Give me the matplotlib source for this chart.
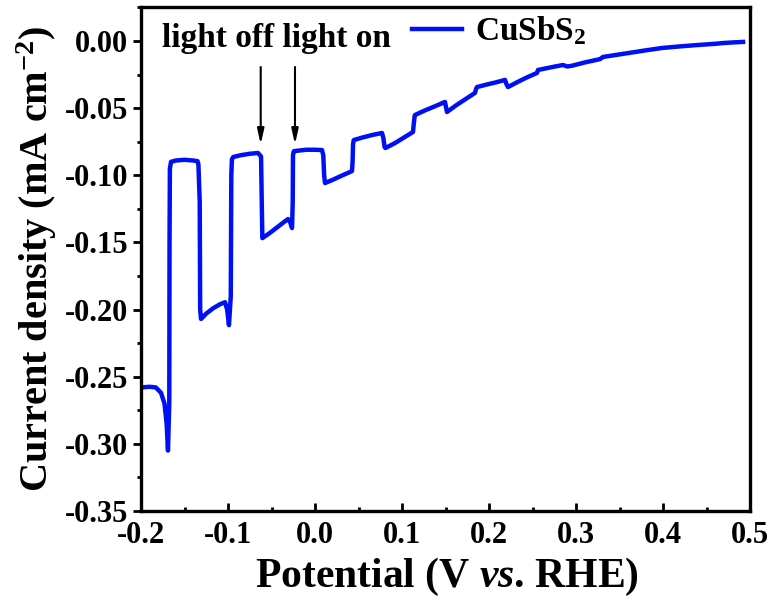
import matplotlib
matplotlib.use("Agg")
import matplotlib.pyplot as plt
from matplotlib.ticker import MultipleLocator, FormatStrFormatter

plt.rcParams['font.family'] = ['Liberation Serif', 'DejaVu Serif']
plt.rcParams['font.weight'] = 'bold'
plt.rcParams['axes.unicode_minus'] = False
plt.rcParams['mathtext.fontset'] = 'custom'
plt.rcParams['mathtext.rm'] = 'Liberation Serif:bold'
plt.rcParams['mathtext.bf'] = 'Liberation Serif:bold'
plt.rcParams['mathtext.it'] = 'Liberation Serif:italic:bold'

# Chopped-light LSV of CuSbS2
potential = [
    -0.200, -0.190, -0.183, -0.177, -0.173, -0.1705, -0.169, -0.1675, -0.1672, -0.1668, -0.1655,
    -0.160, -0.150, -0.140, -0.135, -0.134, -0.1325, -0.132, -0.131,
    -0.125, -0.117, -0.109, -0.1034, -0.101, -0.0989, -0.0968, -0.0962, -0.0955, -0.094,
    -0.085, -0.075, -0.0655, -0.0620, -0.0612, -0.0605,
    -0.052, -0.043, -0.035, -0.031, -0.0285, -0.0264, -0.0256, -0.0253, -0.0245, -0.024,
    -0.017, -0.010, 0.000, 0.008, 0.0095, 0.0105, 0.0115,
    0.020, 0.030, 0.0425, 0.0432, 0.0437, 0.0445,
    0.055, 0.066, 0.077, 0.0785, 0.0800, 0.081,
    0.092, 0.102, 0.1126, 0.1135, 0.1145, 0.115,
    0.126, 0.138, 0.1494, 0.1505, 0.1517,
    0.162, 0.173, 0.1839, 0.1850, 0.1862,
    0.197, 0.208, 0.2184, 0.2200, 0.2218,
    0.233, 0.244, 0.2552, 0.2563,
    0.266, 0.276, 0.285, 0.290, 0.295,
    0.310, 0.3276, 0.331, 0.345, 0.360, 0.380, 0.399, 0.420, 0.440, 0.460, 0.470, 0.480, 0.492,
]
current = [
    -0.2580, -0.2575, -0.2580, -0.2620, -0.2700, -0.2850, -0.3050, -0.2700, -0.1500, -0.0950, -0.0900,
    -0.0890, -0.0885, -0.0890, -0.0895, -0.0920, -0.1200, -0.2000, -0.2070,
    -0.2030, -0.1990, -0.1960, -0.1945, -0.2000, -0.2116, -0.1900, -0.1000, -0.0880, -0.0864,
    -0.0850, -0.0840, -0.0834, -0.0860, -0.1200, -0.1468,
    -0.1430, -0.1385, -0.1345, -0.1326, -0.1350, -0.1393, -0.1200, -0.0850, -0.0825, -0.0820,
    -0.0815, -0.0810, -0.0810, -0.0812, -0.0850, -0.1000, -0.1058,
    -0.1035, -0.1005, -0.0969, -0.0900, -0.0770, -0.0738,
    -0.0718, -0.0700, -0.0685, -0.0720, -0.0790, -0.0797,
    -0.0760, -0.0720, -0.0678, -0.0620, -0.0560, -0.0551,
    -0.0518, -0.0486, -0.0454, -0.0490, -0.0529,
    -0.0480, -0.0433, -0.0387, -0.0360, -0.0343,
    -0.0325, -0.0308, -0.0290, -0.0320, -0.0343,
    -0.0305, -0.0270, -0.0238, -0.0216,
    -0.0203, -0.0190, -0.0179, -0.0190, -0.0185,
    -0.0160, -0.0135, -0.0119, -0.0105, -0.0090, -0.0070, -0.0052, -0.0040, -0.0030, -0.0021, -0.0015, -0.0011, -0.0007,
]

x_ticks = [-0.2, -0.1, 0.0, 0.1, 0.2, 0.3, 0.4, 0.5]
y_ticks = [0.00, -0.05, -0.10, -0.15, -0.20, -0.25, -0.30, -0.35]

fig = plt.figure(figsize=(7.76, 6.0), dpi=100)
ax = fig.add_axes([141/776, 1 - 511/600, (750 - 141)/776, (511 - 7)/600])

ax.plot(potential, current, color='#0010f5', lw=3.2, label='CuSbS$_2$', solid_joinstyle='round')

ax.set_xlim(-0.2, 0.5)
ax.set_ylim(-0.35, 0.0253)
ax.set_xticks(x_ticks)
ax.set_yticks(y_ticks)
ax.xaxis.set_minor_locator(MultipleLocator(0.05))
ax.yaxis.set_minor_locator(MultipleLocator(0.025))
ax.xaxis.set_major_formatter(FormatStrFormatter('%.1f'))
ax.yaxis.set_major_formatter(FormatStrFormatter('%.2f'))

for s in ax.spines.values():
    s.set_linewidth(2.4)
ax.tick_params(axis='x', which='major', direction='in', length=6, width=2, labelsize=22, pad=7)
ax.tick_params(axis='x', which='minor', direction='in', length=3, width=2)
ax.tick_params(axis='y', which='major', direction='out', length=6, width=2, labelsize=22, pad=3)
ax.tick_params(axis='y', which='minor', direction='out', length=3, width=2)
for lab in ax.get_xticklabels() + ax.get_yticklabels():
    lab.set_fontweight('bold')

ax.set_xlabel(r'Potential (V $\mathit{vs}$. RHE)', fontsize=30, fontweight='bold')
ax.set_ylabel(r'Current density (mA cm$^{-2}$)', fontsize=29, fontweight='bold')
ax.xaxis.set_label_coords(0.502, -0.09)
ax.yaxis.set_label_coords(-0.135, 0.5)

leg = ax.legend(loc='center left', bbox_to_anchor=(0.445, 0.952), frameon=False,
                fontsize=24, handlelength=1.5, handletextpad=0.4,
                borderpad=0, borderaxespad=0)
for t in leg.get_texts():
    t.set_fontweight('bold')

ax.text(0.0345, 0.938, 'light off light on', transform=ax.transAxes,
        fontsize=24, fontweight='bold', va='center', ha='left')

arrow_x = [-0.0624, -0.023]
for xa in arrow_x:
    ax.annotate('', xy=(xa, -0.077), xytext=(xa, -0.0194),
                arrowprops=dict(arrowstyle='-|>,head_length=0.9,head_width=0.2',
                                color='black', lw=1.5, shrinkA=0, shrinkB=0))

fig.savefig('out.png', dpi=100)
